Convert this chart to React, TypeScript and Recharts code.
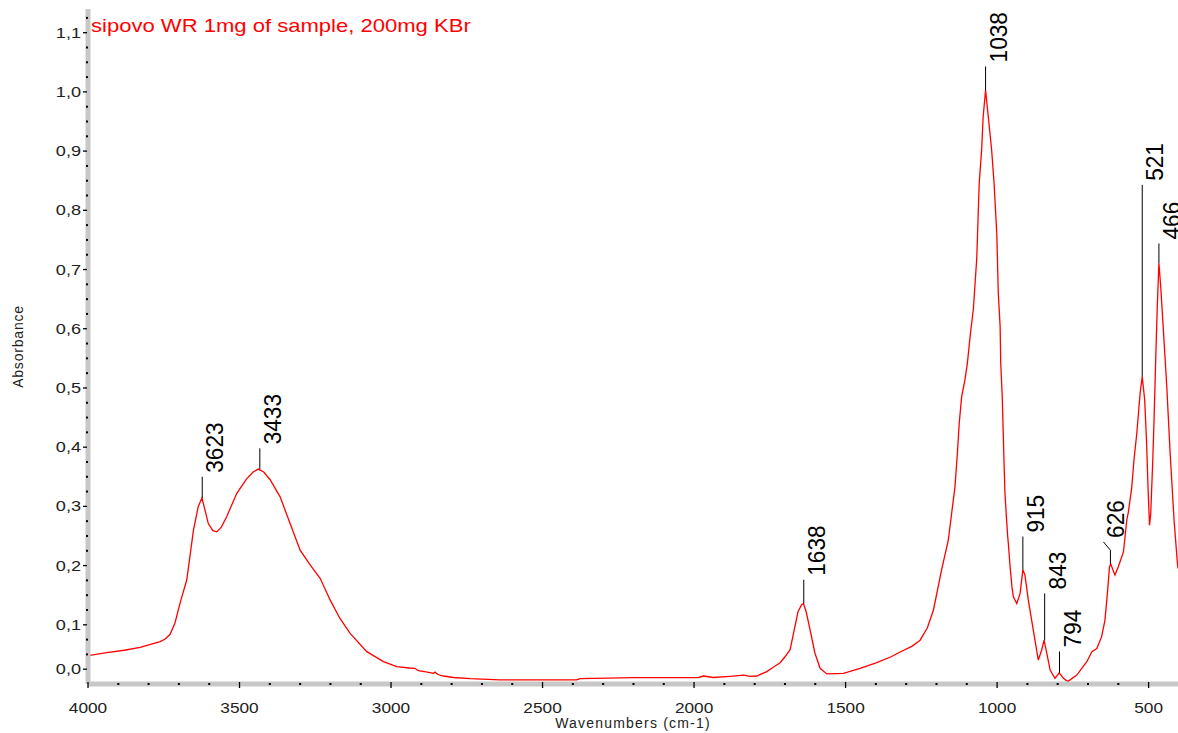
import { ComposedChart, Line, Scatter, XAxis, YAxis, ReferenceLine } from 'recharts';

// spectrum
const wavenumbers = [
  4000, 3938, 3880, 3828, 3762, 3745, 3729, 3713, 3696, 3674, 3652, 3636, 3624, 3612, 3603, 3588, 3575,
  3560, 3542, 3509, 3476, 3455, 3438, 3420, 3399, 3366, 3333, 3300, 3267, 3234, 3201, 3170, 3135,
  3080, 3025, 2981, 2940, 2921, 2910, 2880, 2860, 2855, 2845, 2827, 2794, 2739, 2640, 2387, 2376,
  2200, 1985, 1969, 1937, 1881, 1837, 1815, 1793, 1760, 1740, 1716, 1700, 1683, 1672, 1657, 1645,
  1639, 1630, 1617, 1601, 1584, 1562, 1530, 1507, 1452, 1397, 1350, 1320, 1280, 1254, 1230, 1210,
  1183, 1161, 1150, 1139, 1131, 1125, 1117, 1106, 1098, 1089, 1078, 1067, 1059, 1051, 1046, 1038,
  1029, 1018, 1010, 1001, 996, 990, 988, 983, 977, 974, 970, 965, 963, 957, 951, 946,
  935, 924, 915, 908, 897, 886, 875, 864, 853, 845, 836, 825, 809, 795, 781, 767,
  737, 704, 687, 671, 655, 644, 636, 629, 625, 618, 611, 600, 583, 572, 567, 556,
  548, 539, 528, 521, 513, 507, 502, 497, 493, 487, 482, 476, 471, 466, 460, 452,
  440, 429, 416, 405, 403,
];
const absorbance = [
  0.048, 0.053, 0.057, 0.062, 0.0715, 0.076, 0.084, 0.103, 0.137, 0.176, 0.26, 0.3, 0.314, 0.29, 0.271, 0.259, 0.257,
  0.265, 0.283, 0.322, 0.347, 0.358, 0.363, 0.358, 0.345, 0.316, 0.271, 0.226, 0.201, 0.1785, 0.142, 0.112, 0.0856,
  0.0546, 0.0377, 0.0293, 0.027, 0.0265, 0.0225, 0.02, 0.018, 0.02, 0.016, 0.0135, 0.011, 0.009, 0.0068, 0.0068, 0.009,
  0.0107, 0.011, 0.0135, 0.011, 0.013, 0.015, 0.013, 0.0135, 0.021, 0.028, 0.036, 0.046, 0.058, 0.085, 0.122, 0.134,
  0.136, 0.122, 0.091, 0.052, 0.0265, 0.017, 0.0175, 0.018, 0.0265, 0.036, 0.046, 0.054, 0.064, 0.074, 0.095, 0.125,
  0.193, 0.243, 0.288, 0.333, 0.39, 0.44, 0.485, 0.514, 0.542, 0.587, 0.635, 0.72, 0.846, 0.902, 0.958, 1.003,
  0.958, 0.902, 0.846, 0.761, 0.66, 0.604, 0.542, 0.485, 0.373, 0.322, 0.288, 0.249, 0.238, 0.198, 0.164, 0.147,
  0.136, 0.153, 0.193, 0.184, 0.142, 0.108, 0.074, 0.0405, 0.057, 0.074, 0.052, 0.0236, 0.0096, 0.019, 0.0096, 0.004,
  0.015, 0.0377, 0.0546, 0.06, 0.08, 0.108, 0.153, 0.198, 0.203, 0.193, 0.184, 0.198, 0.223, 0.277, 0.29, 0.33,
  0.38, 0.423, 0.491, 0.519, 0.48, 0.412, 0.333, 0.268, 0.288, 0.367, 0.446, 0.559, 0.643, 0.711, 0.671, 0.604,
  0.502, 0.39, 0.277, 0.204, 0.195,
];

// peak annotations
const peakWavenumbers = [3623, 3433, 1638, 1038, 915, 843, 794, 626, 521, 466];
const peakHeights = [0.314, 0.363, 0.136, 1.003, 0.193, 0.074, 0.019, 0.203, 0.519, 0.711];
const kneeHeights = [0.35, 0.398, 0.176, 1.043, 0.249, 0.153, 0.055, 0.226, 0.843, 0.744];
const labelWavenumbers = [3623, 3433, 1638, 1038, 915, 843, 794, 649, 521, 466];
const labelHeights = [0.35, 0.398, 0.176, 1.043, 0.249, 0.153, 0.055, 0.24, 0.843, 0.744];

const xTickLabels = [4000, 3500, 3000, 2500, 2000, 1500, 1000, 500];
const yTickLabels = [0.025, 0.1, 0.2, 0.3, 0.4, 0.5, 0.6, 0.7, 0.8, 0.9, 1.0, 1.1];

const title = 'sipovo WR 1mg of sample, 200mg KBr';

const spectrum = wavenumbers.map((wn, i) => ({ wn, abs: absorbance[i] }));
const peakLabels = peakWavenumbers.map((p, i) => ({ wn: labelWavenumbers[i], abs: labelHeights[i], text: String(p) }));

// minor ticks: every 100 cm-1 and every 0.025 abs
const xTicks: number[] = [];
for (let v = 500; v <= 4000; v += 100) xTicks.push(v);
const yTicks: number[] = [];
for (let i = 1; i <= 45; i++) yTicks.push(Math.round(i * 25) / 1000);

const FONT = '"Liberation Sans", Arial, sans-serif';
const RED = '#ff0000';
const AXIS_GRAY = '#c8c8c8';

const XTick = (props: any) => {
  const { x, y, payload } = props;
  const v = payload.value;
  if (!xTickLabels.includes(v)) {
    return <rect x={x - 1} y={y - 1} width={2} height={2} fill="#000" />;
  }
  return (
    <g>
      <line x1={x} x2={x} y1={y - 2} y2={y + 4} stroke="#000" strokeWidth={1.3} />
      <text transform={`translate(${x},${y + 29}) scale(1.15,1)`} textAnchor="middle" fontSize={15} fontFamily={FONT} fill="#222">
        {v}
      </text>
    </g>
  );
};

const YTick = (props: any) => {
  const { x, y, payload } = props;
  const v = payload.value;
  const major = yTickLabels.some((t) => Math.abs(t - v) < 1e-6);
  if (!major) {
    return <rect x={x - 2} y={y - 1} width={2} height={2} fill="#000" />;
  }
  return (
    <g>
      <line x1={x - 5} x2={x - 1} y1={y} y2={y} stroke="#000" strokeWidth={1.3} />
      <text transform={`translate(${x - 7},${y + 5}) scale(1.25,1)`} textAnchor="end" fontSize={14.5} fontFamily={FONT} fill="#222">
        {v.toFixed(1).replace('.', ',')}
      </text>
    </g>
  );
};

const PeakLabel = (props: any) => {
  const { cx, cy, payload } = props;
  return (
    <text
      transform={`translate(${cx + 21},${cy - 4}) rotate(-90) scale(1.03,1.12)`}
      fontSize={22}
      fontFamily={FONT}
      fill="#000"
    >
      {payload.text}
    </text>
  );
};

export default function App() {
  return (
    <div style={{ position: 'absolute', left: 0, top: 0, width: 1178, height: 733, background: '#fff' }}>
      <ComposedChart width={1178} height={733} margin={{ top: 9, right: 0, left: 0, bottom: 0 }}>
        <XAxis
          dataKey="wn"
          type="number"
          domain={[403, 4000]}
          reversed
          ticks={xTicks}
          interval={0}
          height={49}
          tickSize={0}
          tickMargin={0}
          tickLine={false}
          tick={(p: any) => <XTick {...p} />}
          axisLine={{ stroke: AXIS_GRAY, strokeWidth: 5 }}
          allowDataOverflow
          label={{ value: 'Wavenumbers (cm-1)', position: 'insideBottom', offset: 5, fontSize: 14, fontFamily: FONT, fill: '#222', letterSpacing: 1.2 }}
        />
        <YAxis
          type="number"
          domain={[0, 1.14]}
          ticks={yTicks}
          interval={0}
          width={88}
          tickSize={0}
          tickMargin={0}
          tickLine={false}
          tick={(p: any) => <YTick {...p} />}
          axisLine={{ stroke: AXIS_GRAY, strokeWidth: 5 }}
          allowDataOverflow
          label={{ value: 'Absorbance', angle: -90, position: 'insideLeft', offset: 18, fontSize: 14, fontFamily: FONT, fill: '#222', letterSpacing: 0.8, style: { textAnchor: 'middle' } }}
        />
        <Line
          data={spectrum}
          dataKey="abs"
          type="linear"
          stroke={RED}
          strokeWidth={1.3}
          dot={false}
          activeDot={false}
          isAnimationActive={false}
        />
        {peakWavenumbers.map((wn, i) => (
          <ReferenceLine
            key={`lead-${wn}`}
            segment={[{ x: wn, y: peakHeights[i] }, { x: wn, y: kneeHeights[i] }]}
            stroke="#000"
            strokeWidth={1}
            ifOverflow="visible"
          />
        ))}
        {peakWavenumbers.map((wn, i) =>
          labelWavenumbers[i] !== wn ? (
            <ReferenceLine
              key={`knee-${wn}`}
              segment={[{ x: wn, y: kneeHeights[i] }, { x: labelWavenumbers[i], y: labelHeights[i] }]}
              stroke="#000"
              strokeWidth={1}
              ifOverflow="visible"
            />
          ) : null
        )}
        <Scatter data={peakLabels} dataKey="abs" shape={(p: any) => <PeakLabel {...p} />} isAnimationActive={false} />
      </ComposedChart>
      <div
        style={{
          position: 'absolute',
          left: 91,
          top: 16,
          fontFamily: FONT,
          fontSize: 19,
          lineHeight: '19px',
          color: RED,
          whiteSpace: 'nowrap',
          transform: 'scaleX(1.16)',
          transformOrigin: 'left top',
        }}
      >
        {title}
      </div>
    </div>
  );
}
